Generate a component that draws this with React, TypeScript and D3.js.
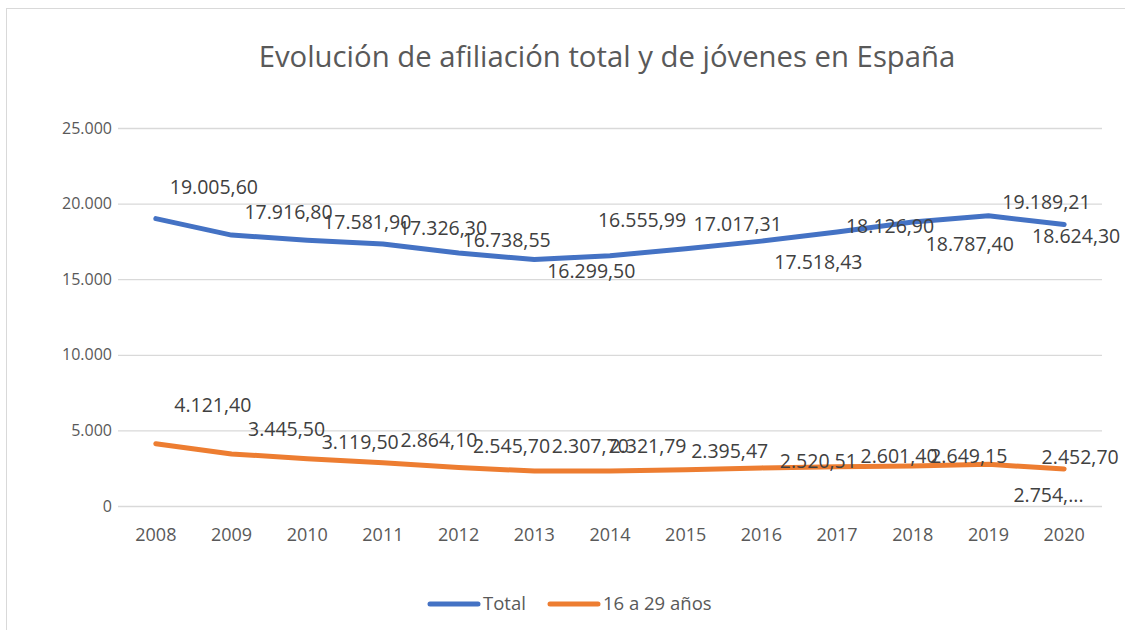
import React, { useEffect, useRef } from 'react';
import * as d3 from 'd3';

const years = ['2008', '2009', '2010', '2011', '2012', '2013', '2014', '2015', '2016', '2017', '2018', '2019', '2020'];
const totalValues = [19005.6, 17916.8, 17581.9, 17326.3, 16738.55, 16299.5, 16555.99, 17017.31, 17518.43, 18126.9, 18787.4, 19189.21, 18624.3];
const youngValues = [4121.4, 3445.5, 3119.5, 2864.1, 2545.7, 2307.7, 2321.79, 2395.47, 2520.51, 2601.4, 2649.15, 2754.0, 2452.7];
const totalLabels = ['19.005,60', '17.916,80', '17.581,90', '17.326,30', '16.738,55', '16.299,50', '16.555,99', '17.017,31', '17.518,43', '18.126,90', '18.787,40', '19.189,21', '18.624,30'];
const youngLabels = ['4.121,40', '3.445,50', '3.119,50', '2.864,10', '2.545,70', '2.307,70', '2.321,79', '2.395,47', '2.520,51', '2.601,40', '2.649,15', '2.754,...', '2.452,70'];
const yTicks = [0, 5000, 10000, 15000, 20000, 25000];
const seriesNames = ['Total', '16 a 29 años'];

// label offsets from the point (Excel placed them oddly)
const totalOffsets: [number, number][] = [
  [58, -31], [57, -23], [60, -18], [60, -16], [48, -13], [57, 12],
  [32, -35], [52, -25], [57, 21], [53, -6], [57, 22], [58, -14], [12, 12],
];
const youngOffsets: [number, number][] = [
  [57, -39], [55, -25], [53, -17], [56, -23], [53, -21], [56, -25],
  [38, -25], [44, -19], [57, -7], [62, -10], [56, -10], [60, 31], [16, -12],
];

const FONT = "'Open Sans', 'Noto Sans', sans-serif";

export default function App() {
  const ref = useRef<SVGSVGElement>(null);

  useEffect(() => {
    draw();
    // eslint-disable-next-line react-hooks/exhaustive-deps
  }, []);

  function draw() {
    const width = 1125;
    const height = 630;
    const margin = { top: 128, right: 23, bottom: 124, left: 118 };
    const innerWidth = width - margin.left - margin.right;
    const innerHeight = height - margin.top - margin.bottom;

    const svg = d3.select(ref.current);
    svg.selectAll('*').remove();

    svg.append('rect')
      .attr('x', 6.5)
      .attr('y', 8.5)
      .attr('width', 1200)
      .attr('height', 700)
      .attr('fill', '#fff')
      .attr('stroke', '#d9d9d9');

    svg.append('text')
      .text('Evolución de afiliación total y de jóvenes en España')
      .attr('x', 607)
      .attr('y', 67)
      .attr('text-anchor', 'middle')
      .attr('font-family', FONT)
      .attr('font-size', 29.3)
      .attr('fill', '#595959');

    const g = svg.append('g').attr('transform', `translate(${margin.left},${margin.top})`);

    const xScale = d3.scaleBand().domain(years).range([0, innerWidth]);
    const yScale = d3.scaleLinear().domain([0, 25000]).range([innerHeight, 0]);
    const cx = (i: number) => (xScale(years[i]) as number) + xScale.bandwidth() / 2;
    const fmt = d3.formatLocale({ decimal: ',', thousands: '.', grouping: [3], currency: ['', '€'] }).format(',');

    // grid
    g.selectAll('.grid')
      .data(yTicks)
      .enter()
      .append('line')
      .attr('x1', 0)
      .attr('x2', innerWidth)
      .attr('y1', (d) => yScale(d) + 0.5)
      .attr('y2', (d) => yScale(d) + 0.5)
      .attr('stroke', '#d9d9d9')
      .attr('stroke-width', 1.3);

    g.selectAll('.ytick')
      .data(yTicks)
      .enter()
      .append('text')
      .text((d) => fmt(d))
      .attr('x', -6)
      .attr('y', (d) => yScale(d))
      .attr('dy', '0.35em')
      .attr('text-anchor', 'end')
      .attr('font-family', FONT)
      .attr('font-size', 16)
      .attr('fill', '#595959');

    g.selectAll('.xtick')
      .data(years)
      .enter()
      .append('text')
      .text((d) => d)
      .attr('x', (d, i) => cx(i))
      .attr('y', innerHeight + 35)
      .attr('text-anchor', 'middle')
      .attr('font-family', FONT)
      .attr('font-size', 18)
      .attr('fill', '#595959');

    const series = [
      { values: totalValues, labels: totalLabels, offsets: totalOffsets, color: '#4472C4' },
      { values: youngValues, labels: youngLabels, offsets: youngOffsets, color: '#ED7D31' },
    ];

    const line = d3
      .line<number>()
      .x((d, i) => cx(i))
      .y((d) => yScale(d));

    series.forEach((s) => {
      g.append('path')
        .datum(s.values)
        .attr('d', line)
        .attr('fill', 'none')
        .attr('stroke', s.color)
        .attr('stroke-width', 5)
        .attr('stroke-linejoin', 'round')
        .attr('stroke-linecap', 'round');
    });

    series.forEach((s) => {
      g.selectAll(null)
        .data(s.values)
        .enter()
        .append('text')
        .text((d, i) => s.labels[i])
        .attr('x', (d, i) => cx(i) + s.offsets[i][0])
        .attr('y', (d, i) => yScale(d) + s.offsets[i][1])
        .attr('dy', '0.35em')
        .attr('text-anchor', 'middle')
        .attr('font-family', FONT)
        .attr('font-size', 19.5)
        .attr('fill', '#404040');
    });

    // legend
    const legend = svg.append('g').attr('transform', 'translate(0,604)');
    const legendX = [430, 550];
    series.forEach((s, i) => {
      legend.append('line')
        .attr('x1', legendX[i])
        .attr('x2', legendX[i] + 48)
        .attr('y1', 0)
        .attr('y2', 0)
        .attr('stroke', s.color)
        .attr('stroke-width', 5)
        .attr('stroke-linecap', 'round');
      legend.append('text')
        .text(seriesNames[i])
        .attr('x', legendX[i] + 53)
        .attr('y', 0)
        .attr('dy', '0.35em')
        .attr('font-family', FONT)
        .attr('font-size', 18.5)
        .attr('fill', '#595959');
    });
  }

  return (
    <svg
      ref={ref}
      width={1125}
      height={630}
      style={{ position: 'absolute', left: 0, top: 0, background: '#fff' }}
    ></svg>
  );
}
